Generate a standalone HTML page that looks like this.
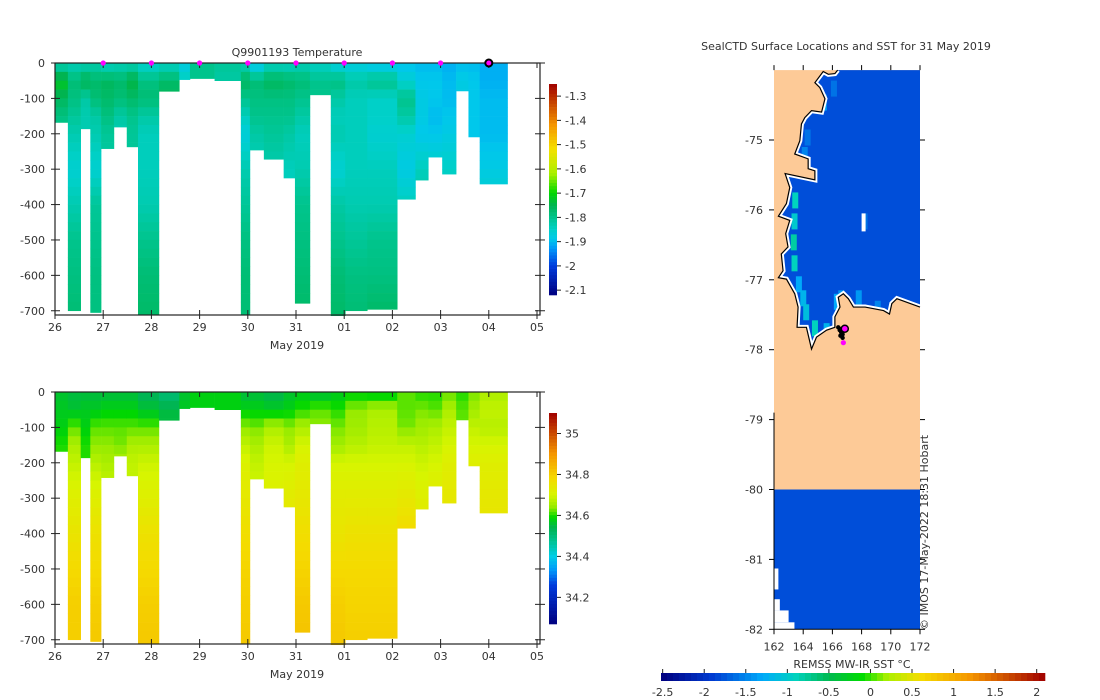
<!DOCTYPE html>
<html><head><meta charset="utf-8">
<style>
html,body{margin:0;padding:0;background:#fff;}
svg{display:block;font-family:"DejaVu Sans","Liberation Sans",sans-serif;}
text{fill:#333;font-size:11px;}
</style></head>
<body>
<svg id="fig" width="1100" height="700" viewBox="0 0 1100 700" xmlns="http://www.w3.org/2000/svg"></svg>
<script>
// ---- profile data (days since 26 May) ----
const colStart = [0,0.267,0.533,0.733,0.956,1.222,1.489,1.722,2.156,2.578,2.8,3.311,3.856,4.044,4.333,4.744,4.978,5.289,5.722,6.022,6.478,7.1,7.478,7.744,8.033,8.322,8.578,8.811];
const colEnd   = [0.267,0.533,0.733,0.956,1.222,1.489,1.722,2.156,2.578,2.8,3.311,3.856,4.044,4.333,4.744,4.978,5.289,5.722,6.022,6.478,7.1,7.478,7.744,8.033,8.322,8.578,8.811,9.389];
const colDepth = [168,700,186,705,242,181,237,711,80,47,44,50,711,246,272,325,679,90,714,700,696,385,331,266,314,79,209,342];
const levels = [0,50,100,150,200,300,400,500,600,700];
const tempVals = [
[-1.84,-1.72,-1.76,-1.79,-1.80],
[-1.84,-1.78,-1.79,-1.81,-1.83,-1.86,-1.83,-1.80,-1.79,-1.78],
[-1.84,-1.75,-1.82,-1.83,-1.83],
[-1.83,-1.77,-1.78,-1.82,-1.83,-1.86,-1.81,-1.80,-1.79,-1.79],
[-1.85,-1.76,-1.77,-1.79,-1.81,-1.82],
[-1.84,-1.77,-1.78,-1.82,-1.83],
[-1.84,-1.74,-1.77,-1.80,-1.81],
[-1.86,-1.79,-1.78,-1.82,-1.84,-1.84,-1.83,-1.80,-1.78,-1.77],
[-1.85,-1.77,-1.76],
[-1.88,-1.84],
[-1.80,-1.80],
[-1.81,-1.82],
[-1.84,-1.76,-1.80,-1.84,-1.87,-1.83,-1.81,-1.79,-1.78,-1.78],
[-1.90,-1.78,-1.79,-1.80,-1.82,-1.84],
[-1.85,-1.76,-1.79,-1.80,-1.81,-1.83],
[-1.85,-1.77,-1.79,-1.80,-1.82,-1.84,-1.84],
[-1.84,-1.78,-1.80,-1.82,-1.84,-1.83,-1.80,-1.79,-1.78,-1.77],
[-1.85,-1.80,-1.80],
[-1.88,-1.79,-1.82,-1.84,-1.83,-1.86,-1.82,-1.80,-1.78,-1.77],
[-1.88,-1.82,-1.84,-1.84,-1.84,-1.84,-1.83,-1.81,-1.79,-1.78],
[-1.90,-1.80,-1.85,-1.85,-1.86,-1.84,-1.83,-1.80,-1.79,-1.77],
[-1.90,-1.86,-1.80,-1.82,-1.86,-1.88,-1.84,-1.83],
[-1.90,-1.89,-1.88,-1.88,-1.89,-1.84,-1.82],
[-1.90,-1.89,-1.89,-1.90,-1.89,-1.85],
[-1.91,-1.90,-1.90,-1.89,-1.88,-1.85,-1.83],
[-1.90,-1.88],
[-1.90,-1.89,-1.89,-1.89,-1.89],
[-1.91,-1.91,-1.90,-1.90,-1.90,-1.88,-1.85]];
const salVals = [
[34.56,34.57,34.58,34.60],
[34.55,34.56,34.62,34.66,34.68,34.72,34.75,34.78,34.80,34.80],
[34.55,34.57,34.58,34.60],
[34.55,34.57,34.62,34.64,34.67,34.72,34.76,34.78,34.80,34.81],
[34.55,34.58,34.62,34.64,34.66,34.69],
[34.55,34.58,34.62,34.63,34.66],
[34.55,34.58,34.62,34.66,34.68],
[34.53,34.56,34.62,34.66,34.69,34.72,34.76,34.78,34.80,34.81],
[34.50,34.55],
[34.56,34.57],
[34.58,34.58],
[34.58,34.58],
[34.55,34.58,34.64,34.68,34.71,34.74,34.77,34.79,34.80,34.81],
[34.55,34.58,34.63,34.66,34.68,34.70],
[34.54,34.57,34.66,34.69,34.70,34.72],
[34.56,34.58,34.64,34.66,34.70,34.73,34.76],
[34.57,34.60,34.66,34.70,34.72,34.74,34.77,34.79,34.81,34.82],
[34.55,34.62,34.64],
[34.57,34.60,34.63,34.65,34.70,34.73,34.75,34.78,34.80,34.81],
[34.58,34.64,34.65,34.67,34.70,34.73,34.76,34.78,34.79,34.80],
[34.57,34.66,34.67,34.68,34.70,34.73,34.76,34.78,34.79,34.80],
[34.62,34.62,34.63,34.68,34.70,34.74,34.78,34.80],
[34.60,34.63,34.65,34.67,34.69,34.72,34.74],
[34.60,34.62,34.66,34.68,34.70,34.73],
[34.62,34.66,34.68,34.70,34.72,34.74,34.75],
[34.60,34.62],
[34.63,34.65,34.68,34.70,34.72],
[34.66,34.68,34.67,34.70,34.72,34.74,34.75]];
const markerDays = [1,2,3,4,5,6,7,8];
const lastDay = 9;
const xTickLabels = ["26","27","28","29","30","31","01","02","03","04","05"];
const yTicks = [0,-100,-200,-300,-400,-500,-600,-700];
const tTicks = [-1.3,-1.4,-1.5,-1.6,-1.7,-1.8,-1.9,-2,-2.1];
const sTicks = [35,34.8,34.6,34.4,34.2];
// map data
const coastLon = [166.36,172.0,172.0,170.42,170.07,169.91,169.50,168.24,167.44,167.09,166.75,166.40,166.52,166.17,166.17,165.60,164.91,164.57,164.22,163.58,163.65,163.42,162.85,162.30,162.62,162.50,162.96,162.80,163.08,162.30,162.85,163.08,162.76,164.80,164.80,164.34,164.34,163.42,163.77,163.88,164.11,164.57,165.26,165.49,165.14,164.80,165.37,165.72,166.17];
const coastLat = [-74.0,-74.0,-77.39,-77.27,-77.34,-77.49,-77.44,-77.39,-77.39,-77.27,-77.20,-77.25,-77.39,-77.53,-77.68,-77.72,-77.82,-77.99,-77.68,-77.68,-77.39,-77.20,-76.99,-76.97,-76.87,-76.63,-76.53,-76.34,-76.15,-76.09,-75.91,-75.68,-75.48,-75.57,-75.44,-75.41,-75.27,-75.20,-75.01,-74.77,-74.68,-74.58,-74.60,-74.41,-74.25,-74.18,-74.02,-74.06,-74.05];
const coastCellLon = [163.3,163.25,163.2,163.15,163.2,163.5,163.8,164.0,164.6,165.4,165.2,165.9,166.1,163.9,164.1,166.4,168.0,168.9,167.6];
const coastCellLat = [-75.3,-75.75,-76.05,-76.35,-76.65,-76.95,-77.15,-77.35,-77.58,-77.62,-74.35,-74.15,-77.2,-75.1,-74.85,-77.15,-76.05,-77.3,-77.15];
const coastCellSST = [-1.2,-0.9,-1.0,-0.8,-0.9,-1.3,-1.2,-1.1,-0.9,-1.2,-1.3,-1.6,-1.3,-1.5,-1.6,-1.4,-1.6,-1.5,-1.4];
const trackLon = [166.4,166.5,166.6,166.7,166.55,166.65,166.7];
const trackLat = [-77.68,-77.72,-77.75,-77.78,-77.80,-77.7,-77.83];
const sstTicks = [-2.5,-2,-1.5,-1,-0.5,0,0.5,1,1.5,2];

const NS="http://www.w3.org/2000/svg";
const svg=document.getElementById('fig');
function el(tag,attrs,parent){const e=document.createElementNS(NS,tag);for(const k in attrs)e.setAttribute(k,attrs[k]);(parent||svg).appendChild(e);return e;}
function txt(s,x,y,anchor,parent,extra){const t=el('text',Object.assign({x:x,y:y,'text-anchor':anchor||'middle'},extra||{}),parent);t.textContent=s;return t;}
function hex(c){return c.map(v=>Math.round(Math.max(0,Math.min(255,v)))).reduce((s,v)=>s+v.toString(16).padStart(2,'0'),'#');}
function cmap(stops,v){
  if(v<=stops[0][0])return hex(stops[0][1]);
  for(let i=1;i<stops.length;i++){if(v<=stops[i][0]){const a=stops[i-1],b=stops[i];const f=(v-a[0])/(b[0]-a[0]);return hex(a[1].map((c,j)=>c+(b[1][j]-c)*f));}}
  return hex(stops[stops.length-1][1]);}
const tStops=[[-2.12,[0,0,128]],[-2.0,[0,60,220]],[-1.93,[0,150,250]],[-1.89,[0,200,235]],[-1.85,[0,208,200]],[-1.80,[0,196,140]],[-1.75,[0,180,80]],[-1.70,[0,215,0]],[-1.62,[170,240,0]],[-1.52,[245,225,0]],[-1.42,[245,150,0]],[-1.25,[160,0,0]]];
const sStops=[[34.07,[0,0,128]],[34.26,[0,60,220]],[34.33,[0,150,250]],[34.40,[0,205,230]],[34.47,[0,195,150]],[34.54,[0,180,80]],[34.59,[0,215,0]],[34.64,[150,235,0]],[34.70,[215,245,0]],[34.78,[245,218,0]],[34.90,[245,150,0]],[35.10,[160,0,0]]];
const mStops=[[-2.5,[0,0,128]],[-1.9,[0,60,210]],[-1.3,[0,170,250]],[-0.9,[0,210,190]],[-0.5,[0,185,80]],[-0.1,[0,220,0]],[0.2,[170,240,0]],[0.6,[245,220,0]],[1.2,[245,150,0]],[2.1,[160,0,0]]];
function interp(vals,d){
  for(let i=1;i<vals.length;i++){if(d<=levels[i]){const f=(d-levels[i-1])/(levels[i]-levels[i-1]);return vals[i-1]+(vals[i]-vals[i-1])*f;}}
  return vals[vals.length-1];}

function section(name,top,vals,stops,cbTicks,cbMin,cbMax,title){
  const g=el('g',{});
  
  
  const L=55,R=537,T=top,B=top+252;
  const xs=d=>L+(R-L)*d/10, ys=z=>T+(B-T)*z/712;
  for(let c=0;c<colStart.length;c++){
    const cg=el('g',{},g);
    
    
    const x0=xs(colStart[c]),x1=xs(colEnd[c]);
    for(let z=0;z<colDepth[c];z+=25){
      const z1=Math.min(z+25,colDepth[c]);
      const r=el('rect',{x:x0,y:ys(z),width:x1-x0+0.3,height:ys(z1)-ys(z)+0.3,fill:cmap(stops,interp(vals[c],z+12))},cg);
      
      
    }
  }
  const box=el('rect',{x:L,y:T,width:R+3-L,height:B-T,fill:'none',stroke:'#222','stroke-width':1.2},g);
  
  
  for(let i=0;i<xTickLabels.length;i++){const x=xs(i);
    el('line',{x1:x,y1:B,x2:x,y2:B-5,stroke:'#222'},g);el('line',{x1:x,y1:T,x2:x,y2:T+5,stroke:'#222'},g);
    el('line',{x1:x,y1:B,x2:x,y2:B+4,stroke:'#222'},g);
    const t=txt(xTickLabels[i],x,B+16,'middle',g);}
  yTicks.forEach(v=>{const y=ys(-v);
    el('line',{x1:L-4,y1:y,x2:L+5,y2:y,stroke:'#222'},g);el('line',{x1:R+3,y1:y,x2:R-2,y2:y,stroke:'#222'},g);
    el('line',{x1:R+3,y1:y,x2:R+8,y2:y,stroke:'#222'},g);
    const t=txt(String(v),L-10,y+4,'end',g);});
  const xl=txt('May 2019',297,B+34,'middle',g);
  if(title){const tt=txt(title,297,T-7,'middle',g);
    markerDays.forEach(d=>{const m=el('circle',{cx:xs(d),cy:T,r:2.6,fill:'#ff00ff'},g);});
    const lm=el('circle',{cx:xs(lastDay),cy:T,r:3.5,fill:'#ff00ff',stroke:'#000','stroke-width':2},g);}
  const cb=el('g',{},g);
  const cT=top+21,cB=top+232,cX=549,cW=8,N=64;
  const cy=v=>cT+(cB-cT)*(cbMax-v)/(cbMax-cbMin);
  for(let i=0;i<N;i++){const v0=cbMax-(cbMax-cbMin)*i/N;const v1=cbMax-(cbMax-cbMin)*(i+1)/N;
    el('rect',{x:cX,y:cy(v0),width:cW,height:cy(v1)-cy(v0)+0.3,fill:cmap(stops,(v0+v1)/2)},cb);}
  cbTicks.forEach(v=>{const y=cy(v);el('line',{x1:cX+cW,y1:y,x2:cX+cW+4,y2:y,stroke:'#222'},cb);txt(String(v),cX+cW+8,y+4,'start',cb);});
}
section('temperature',63,tempVals,tStops,tTicks,-2.12,-1.25,'Q9901193  Temperature');
section('salinity',392,salVals,sStops,sTicks,34.07,35.1,null);

// ---- map ----
const mg=el('g',{});
const mx=lon=>774+(lon-162)*14.6, my=lat=>140+(-75-lat)*69.9;
const land=el('rect',{x:mx(162),y:my(-74),width:mx(172)-mx(162),height:my(-80)-my(-74),fill:'#fdca97'},mg);

const south=el('rect',{x:mx(162),y:my(-80),width:mx(172)-mx(162),height:my(-82)-my(-80),fill:cmap(mStops,-1.8)},mg);

[[162,-81.13,162.3,-81.43],[162,-81.57,162.4,-81.73],[162,-81.73,163,-81.9],[162,-81.9,163.4,-82]].forEach(b=>{el('rect',{x:mx(b[0]),y:my(b[1]),width:mx(b[2])-mx(b[0]),height:my(b[3])-my(b[1]),fill:'#fff'},mg);});
const pts=coastLon.map((lo,i)=>mx(lo)+','+my(coastLat[i])).join(' ');
const coastPts=coastLon.slice(2).concat([coastLon[0]]).map((lo,i)=>mx(lo)+','+my(coastLat.slice(2).concat([coastLat[0]])[i])).join(' ');
const defs=el('defs',{},mg);
const cp=el('clipPath',{id:'oceanClip'},defs);
el('polygon',{points:pts},cp);
const ocean=el('polygon',{points:pts,fill:cmap(mStops,-1.8)},mg);

coastCellLon.forEach((lo,i)=>{const r=el('rect',{x:mx(lo),y:my(coastCellLat[i]),width:6,height:16,fill:cmap(mStops,coastCellSST[i]),'clip-path':'url(#oceanClip)'},mg);
  });
el('polyline',{points:coastPts,fill:'none',stroke:'#fff','stroke-width':5,'clip-path':'url(#oceanClip)'},mg);
const coast=el('polyline',{points:coastPts,fill:'none',stroke:'#000','stroke-width':1.2},mg);

el('rect',{x:mx(168),y:my(-76.05),width:4,height:18,fill:'#fff'},mg);
trackLon.forEach((lo,i)=>{const d=el('circle',{cx:mx(lo),cy:my(trackLat[i]),r:2.2,fill:'#000'},mg);});
const cur=el('circle',{cx:mx(166.85),cy:my(-77.7),r:3.5,fill:'#ff00ff',stroke:'#000','stroke-width':1.5},mg);

el('circle',{cx:mx(166.75),cy:my(-77.9),r:2.6,fill:'#ff00ff'},mg);
el('line',{x1:mx(162),y1:my(-78.9),x2:mx(162),y2:my(-82),stroke:'#000'},mg);
el('line',{x1:mx(162),y1:my(-82),x2:mx(172),y2:my(-82),stroke:'#000'},mg);
for(let lo=162;lo<=172;lo+=2){el('line',{x1:mx(lo),y1:my(-74),x2:mx(lo),y2:my(-74)-5,stroke:'#000'},mg);
  el('line',{x1:mx(lo),y1:my(-82),x2:mx(lo),y2:my(-82)+5,stroke:'#000'},mg);
  const t=txt(String(lo),mx(lo),my(-82)+21,'middle',mg);}
for(let la=-75;la>=-82;la--){el('line',{x1:mx(162)-5,y1:my(la),x2:mx(162),y2:my(la),stroke:'#000'},mg);
  el('line',{x1:mx(172),y1:my(la),x2:mx(172)+5,y2:my(la),stroke:'#000'},mg);
  const t=txt(String(la),mx(162)-11,my(la)+4,'end',mg);}
const mt=txt('SealCTD Surface Locations and SST for 31 May 2019',846,50,'middle',mg);
const cr=txt('© IMOS 17-May-2022 18:31 Hobart',0,0,'start',mg,{transform:'translate(928,630) rotate(-90)','font-size':'10px'});

const hb=el('g',{});
const hx=v=>661+(1045-661)*(v+2.52)/(2.1+2.52);
for(let i=0;i<64;i++){const v0=-2.52+4.62*i/64,v1=-2.52+4.62*(i+1)/64;el('rect',{x:hx(v0),y:673,width:hx(v1)-hx(v0)+0.3,height:8,fill:cmap(mStops,(v0+v1)/2)},hb);}
sstTicks.forEach(v=>{el('line',{x1:hx(v),y1:669,x2:hx(v),y2:673,stroke:'#222'},hb);txt(String(v),hx(v),696,'middle',hb);});
const cl=txt('REMSS MW-IR SST °C',852,668,'middle',hb);
</script>
</body></html>
